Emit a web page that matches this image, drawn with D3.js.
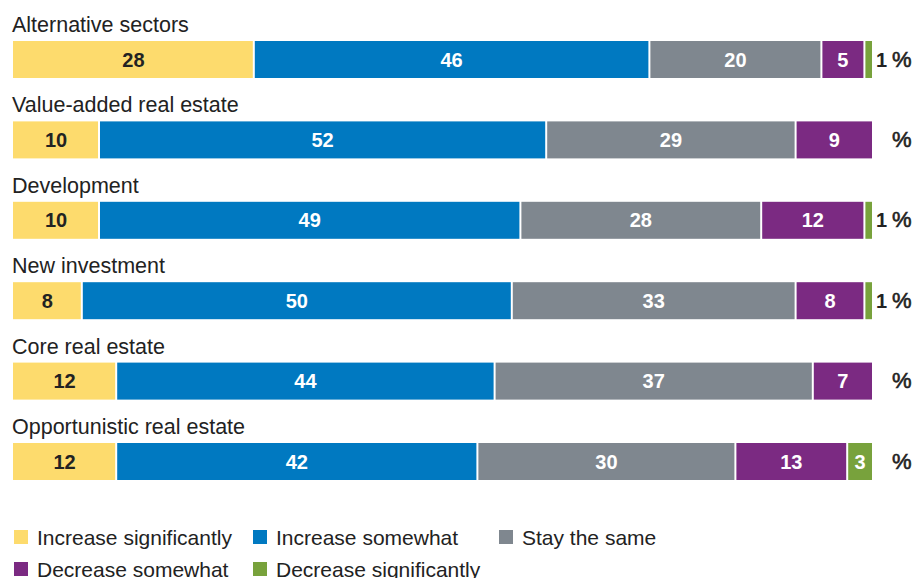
<!DOCTYPE html>
<html><head><meta charset="utf-8">
<script src="https://cdn.jsdelivr.net/npm/d3@7"></script>
<style>body{margin:0;background:#fff;font-family:"Liberation Sans",Arial,Helvetica,sans-serif;}</style>
</head><body><svg id="c" width="913" height="578"></svg>
<script>
const categories = ["Alternative sectors","Value-added real estate","Development","New investment","Core real estate","Opportunistic real estate"];
const seriesNames = ["Increase significantly","Increase somewhat","Stay the same","Decrease somewhat","Decrease significantly"];
const increaseSignificantly = [28,10,10,8,12,12];
const increaseSomewhat = [46,52,49,50,44,42];
const stayTheSame = [20,29,28,33,37,30];
const decreaseSomewhat = [5,9,12,8,7,13];
const decreaseSignificantly = [1,0,1,1,0,3];
const colors = ["#FDDB6D","#0079C1","#7F878F","#7B2A82","#78A23C"];
const textColors = ["#222","#fff","#fff","#fff","#fff"];

const series = [increaseSignificantly,increaseSomewhat,stayTheSame,decreaseSomewhat,decreaseSignificantly];
const svg = d3.select("#c");
const x = d3.scaleLinear().domain([0,100]).range([13,873]);
const step = 80.4, bh = 37;
const y = d3.scalePoint().domain(categories).range([41, 41 + step*(categories.length-1)]);

categories.forEach((cat,i)=>{
  const top = y(cat);
  const g = svg.append("g");
  g.append("text").attr("x",12).attr("y",top-9).attr("font-size",21.5).attr("fill","#222").text(cat);
  let cum = 0;
  series.forEach((s,k)=>{
    const v = s[i];
    if(!v){return;}
    const x0 = x(cum), x1 = x(cum+v);
    g.append("rect").attr("x",x0 + (cum>0?1:0)).attr("y",top).attr("width",x1-x0-(cum>0?1:0)-1).attr("height",bh).attr("fill",colors[k]);
    const inside = (x1-x0) > 15;
    g.append("text")
      .attr("x", inside ? (x0+x1)/2 : x1+3)
      .attr("y", top+bh/2+7)
      .attr("text-anchor", inside ? "middle":"start")
      .attr("font-size",20).attr("font-weight","bold")
      .attr("fill", inside ? textColors[k] : "#222")
      .text(v);
    cum += v;
  });
  g.append("text").attr("x",892).attr("y",top+bh/2+7).attr("font-size",22).attr("fill","#222")
    .attr("stroke","#222").attr("stroke-width",0.6).text("%");
});

const legendPos = [[14,537],[253,537],[499,537],[14,569],[253,569]];
seriesNames.forEach((n,k)=>{
  const [lx,ly] = legendPos[k];
  svg.append("rect").attr("x",lx).attr("y",ly-7).attr("width",14).attr("height",14).attr("fill",colors[k]);
  svg.append("text").attr("x",lx+23).attr("y",ly+7.5).attr("font-size",21).attr("fill","#222").text(n);
});
</script></body></html>
